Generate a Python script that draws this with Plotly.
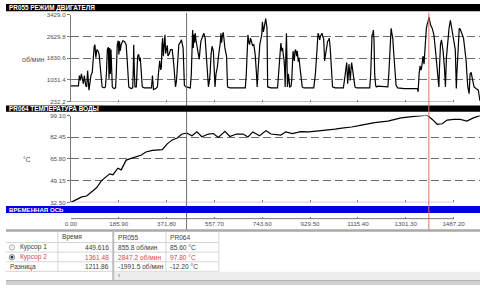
import plotly.graph_objects as go

# ---------------- data ----------------
rpm_time = [0, 29.3, 33.1, 37, 40.8, 44.6, 48.4, 52.3, 57.4, 61.2, 65.1, 70.2, 77.9, 83, 86.8, 90.7, 93.2, 97.1,
            100.9, 106, 109.8, 116.2, 121.3, 129, 134.1, 138, 141.8, 145.7, 148.2, 150.8, 153.3, 155.9, 158.4, 161,
            167.4, 173.8, 176.3, 180.2, 184, 186.6, 189.1, 191.7, 195.5, 201.9, 208.3, 214.7, 218.6, 221.1, 225,
            233.9, 240.3, 242.8, 244.1, 246.7, 249.2, 254.4, 256.9, 259.5, 263.3, 267.2, 269.7, 273.6, 277.4, 285.1,
            313.2, 317, 320.9, 329.8, 336.2, 340.1, 345.2, 349, 351.6, 354.1, 356.7, 359.2, 361.8, 364.4, 365.6,
            368.2, 370.7, 374.6, 377.1,
            381, 387.4, 393.8, 400.2, 406.6, 410.4, 414.3, 419.4, 424.5, 429.6, 436, 438.6, 441.1, 447.5, 464.1,
            468, 470.5, 473.1, 475.6, 478.2, 480.8, 483.3, 485.9, 489.7, 493.6, 498.7, 502.5, 505.1, 511.5, 516.6,
            521.7, 525.5, 528.1, 531.9, 534.5, 538.3, 540.9, 544.7, 548.5, 553.7, 557.5, 560.1, 563.9, 569, 572.9,
            576.7, 580.5, 583.1, 585.6, 588.2, 592, 595.9, 598.4, 604.8, 607.4, 608.7, 617.6, 677.7, 681.6, 685.4,
            688, 691.8, 694.4, 698.2, 700.8, 705.9, 711, 716.1, 721.2, 723.8, 726.3, 728.9, 734, 739.1, 741.7,
            744.2, 748.1, 750.6, 754.5, 757, 759.6, 762.1, 764.7, 777.5,
            803.1, 806.9, 809.5, 813.3, 815.9, 819.7, 822.3, 826.1, 828.7, 831.2, 832.5, 835.1, 837.6, 840.2, 841.5,
            845.3, 850.4, 855.5, 858.1, 863.2, 865.8, 868.3, 870.9, 873.4, 877.3, 879.8, 883.7, 886.2, 890.1, 892.6,
            896.4, 899, 905.4, 943.8, 950.2, 954, 956.6, 960.4, 963, 966.8, 969.4, 973.2, 975.8, 979.6, 982.1,
            984.7, 986, 988.5, 991.1, 994.9, 997.5, 1001.3, 1003.9, 1007.7, 1010.3, 1014.1, 1016.7, 1026.9, 1058.9,
            1062.7, 1065.3, 1069.1, 1071.7, 1075.5, 1078.1, 1080.6, 1083.2, 1085.7, 1088.3, 1090.9, 1093.4, 1097.3,
            1101.1, 1103.7, 1110, 1161.2, 1165, 1167.6, 1170.2, 1172.7, 1175.3, 1177.9, 1180.4, 1184.2, 1186.8,
            1193.2, 1218.8, 1231.6, 1235.4, 1238, 1241.8, 1244.3, 1248.2, 1250.7, 1254.6, 1257.1, 1259.7, 1263.5,
            1269.9, 1295.5, 1346.7, 1349.2, 1353.1, 1356.9, 1359.5, 1362, 1365.8, 1368.4, 1372.2, 1376.1, 1381.2,
            1385, 1387.6, 1391.4, 1395.3, 1397.8, 1404.2, 1410.6, 1417, 1423.4, 1427.2, 1429.8, 1432.4, 1436.2,
            1440, 1443.9, 1446.4, 1451.5, 1455.4, 1459.2, 1464.3, 1469.4, 1474.6, 1481, 1487.4, 1493.7, 1496.3,
            1497.6, 1500.1, 1502.7, 1506.5, 1509.1, 1512.9, 1515.5, 1520.6, 1525.7, 1530.8, 1535.9, 1539.8, 1542.3,
            1547.4, 1551.3, 1555.1, 1557.7, 1560.2, 1564.1, 1566.6, 1574.3, 1583.2, 1587.1, 1589.6]

rpm_value = [807, 807, 1190, 1010, 1250, 1070, 891, 1190, 831, 771, 1370, 651, 1190, 1310, 1968, 2268, 2327, 1849,
             2148, 2088, 1968, 1250, 771, 735, 771, 1250, 2148, 2232, 1070, 2208, 1250, 2150, 1609, 771,
             711, 735, 1250, 2327, 2471, 1968, 2447, 2100, 2327, 2471, 2447, 2327, 1800, 1250, 771,
             711, 735, 1500, 2327, 1300, 771, 771, 1300, 1908, 1968, 1720, 1849, 1250, 771, 735,
             735, 1190, 675, 711, 771, 1250, 1729, 1400, 1489, 2300, 2567, 1900, 2208, 2500, 2687,
             2000, 2088, 2300, 1908,
             1968, 2148, 2148, 1549, 771, 1000, 1700, 2327, 2400, 2507, 2208, 1400, 831, 771, 735,
             1250, 2200, 2866, 2208, 2700, 2400, 2750, 2507, 2300, 2088, 1789, 2200, 2447, 2627, 2747,
             2567, 2000, 1609, 1000, 771, 1000, 1250, 1968, 2268, 2088, 1500, 771, 1250, 1489, 1849,
             2088, 2400, 2747, 2400, 2627, 2782, 2450, 2208, 1908, 1300, 771, 735, 735, 1250, 2300,
             2687, 2400, 2327, 2567, 2500, 2300, 2327, 1968, 1250, 771, 1200, 1729, 2327, 2567, 2700,
             3166, 2800, 2926, 3200, 3285, 3100, 2926, 771, 735,
             735, 1200, 1849, 2200, 2387, 2088, 2208, 1900, 1729, 1300, 771, 1900, 2747, 1500, 771,
             1250, 771, 800, 1010, 2088, 1800, 1729, 2100, 2148, 1900, 2088, 1700, 1849, 1500, 1250,
             1000, 771, 735, 735, 1250, 2000, 2567, 2747, 2687, 2500, 2627, 2700, 2747, 2600, 2567,
             2000, 1729, 1900, 2088, 2300, 2447, 2500, 2567, 2200, 1849, 1250, 771, 735, 735,
             1000, 1250, 1609, 1669, 891, 1500, 1609, 1300, 1010, 1400, 1669, 1500, 1250,
             900, 771, 735, 735, 1250, 2100, 2687, 2700, 2866, 2500, 1250, 831, 771,
             800, 771, 771, 1250, 1729, 2500, 2926, 2700, 2567, 2000, 1549, 1100, 831,
             735, 711, 711, 592, 1250, 1549, 1400, 1430, 1700, 1908, 1609, 2327, 2926,
             3100, 3166, 3345, 3150, 3046, 2926, 2687, 2088, 1250, 900, 771, 1500, 2327,
             2507, 2300, 2088, 1489, 771, 1849, 2447, 2926, 3225, 2806, 2507, 2148, 1250,
             711, 1300, 1849, 2500, 2926, 2900, 2806, 2700, 2567, 2200, 1729, 1100, 771,
             520, 1250, 1310, 1150, 1070, 900, 771, 711, 651, 400, 260]

temp_time = [0, 23, 42.2, 61.4, 80.6, 99.8, 119, 138.1, 150.8, 163.5, 182.6, 195.7, 214.9, 234.1, 253.2, 272.4,
             291.6, 316.9, 355.3, 374.5, 393.7, 412.9, 432, 451.2, 470.4, 489.6, 508.8, 534.5, 553.7, 572.9,
             598.6, 617.8, 643.1, 668.8, 688, 707.2, 732.9, 758.2, 777.4, 815.8, 834.9, 860.7, 892.5, 924.7,
             963.1, 1001.5, 1026.8, 1052.5, 1090.9, 1129.2, 1180.3, 1231.7, 1282.7, 1333.8, 1385.2, 1404.3,
             1423.5, 1442.7, 1461.9, 1487.2, 1512.9, 1538.6, 1564, 1589.7]
temp_value = [32.5, 35.0, 36.7, 37.4, 40.4, 43.7, 49.2, 52.4, 54.4, 53.7, 58.7, 57.4, 64.9, 66.2, 67.4, 68.6,
              71.1, 72.4, 72.9, 77.4, 80.4, 81.9, 84.9, 85.6, 83.6, 86.6, 82.8, 84.9, 85.3, 82.3,
              87.0, 83.0, 84.9, 84.9, 82.6, 86.5, 83.6, 87.5, 84.9, 84.1, 86.6, 85.3, 86.8, 86.6,
              87.4, 87.9, 88.6, 89.4, 90.3, 91.8, 93.6, 94.8, 97.3, 98.4, 99.3, 96.1,
              92.4, 92.8, 95.6, 96.1, 96.1, 94.8, 97.3, 99.1]

rpm_ticks = [232.2, 1031.4, 1830.6, 2629.8, 3429.0]
rpm_tick_text = ["232.2", "1031.4", "1830.6", "2629.8", "3429.0"]
temp_ticks = [32.50, 49.15, 65.80, 82.45, 99.10]
temp_tick_text = ["32.50", "49.15", "65.80", "82.45", "99.10"]
time_ticks = [0.00, 185.90, 371.80, 557.70, 743.60, 929.50, 1115.40, 1301.30, 1487.20]
time_max = 1589.7
cursor1_time = 449.616
cursor2_time = 1391.0

title_rpm = "PR055 РЕЖИМ ДВИГАТЕЛЯ"
title_temp = "PR064 ТЕМПЕРАТУРА ВОДЫ"
title_time = "ВРЕМЕННАЯ ОСЬ"
unit_rpm = "об/мин"
unit_temp = "°C"

table_header = ["Время", "PR055", "PR064"]
row_labels = ["Курсор 1", "Курсор 2", "Разница"]
row_times = ["449.616", "1361.48", "1211.86"]
row_pr055 = ["855.8 об/мин", "2847.2 об/мин", "-1991.5 об/мин"]
row_pr064 = ["85.60 °C", "97.80 °C", "-12.20 °C"]

# ---------------- layout helpers ----------------
W, H = 480, 288
FONT = "Liberation Sans, Arial, sans-serif"
TXT = "#404040"
RED = "#dd4646"
GRID = "#6c6c6c"
AX = "#7a7a7a"


def X(p):
    return p / W


def Y(p):
    return 1 - p / H


xdom = [X(65.7), 1.0]

fig = go.Figure()
fig.add_trace(go.Scatter(x=rpm_time, y=rpm_value, mode="lines", xaxis="x", yaxis="y",
                         line=dict(color="#000000", width=1.2), hoverinfo="skip", showlegend=False))
fig.add_trace(go.Scatter(x=temp_time, y=temp_value, mode="lines", xaxis="x2", yaxis="y2",
                         line=dict(color="#000000", width=1.2), hoverinfo="skip", showlegend=False))
fig.add_trace(go.Scatter(x=[time_ticks[0], time_ticks[-1]], y=[0, 0], mode="markers", xaxis="x3", yaxis="y3",
                         marker=dict(opacity=0), hoverinfo="skip", showlegend=False))

xcommon = dict(domain=xdom, range=[0, time_max], tickvals=time_ticks, showticklabels=False,
               ticks="inside", ticklen=2, tickcolor=AX, tickwidth=1, showgrid=False, zeroline=False,
               showline=False, fixedrange=True)
ycommon = dict(showline=True, linecolor=AX, linewidth=1, ticks="outside", ticklen=3, tickcolor=AX,
               showgrid=True, gridcolor=GRID, griddash="8px,4px", gridwidth=1.2, zeroline=False,
               tickfont=dict(family=FONT, size=6.2, color="#505050"), fixedrange=True)

fig.update_layout(
    width=W, height=H, margin=dict(l=0, r=0, t=0, b=0, pad=0), autosize=False,
    paper_bgcolor="#ffffff", plot_bgcolor="rgba(0,0,0,0)", showlegend=False,
    xaxis=dict(anchor="y", **xcommon),
    yaxis=dict(domain=[Y(100), Y(11)], range=[rpm_ticks[0], rpm_ticks[-1]], tickvals=rpm_ticks,
               ticktext=rpm_tick_text, anchor="x", **ycommon),
    xaxis2=dict(anchor="y2", **xcommon),
    yaxis2=dict(domain=[Y(203.3), Y(114.3)], range=[temp_ticks[0], temp_ticks[-1]], tickvals=temp_ticks,
                ticktext=temp_tick_text, anchor="x2", **ycommon),
    xaxis3=dict(domain=xdom, range=[0, time_max], anchor="y3", side="bottom", tickvals=time_ticks,
                tickformat=".2f", ticks="inside", ticklen=2, tickcolor=AX, showline=False, showgrid=False,
                zeroline=False, tickfont=dict(family=FONT, size=6.2, color="#505050"), fixedrange=True),
    yaxis3=dict(domain=[Y(220), Y(218)], anchor="x3", visible=False, range=[-1, 1], fixedrange=True),
)

shapes = []
# cursor 1 (gray)
shapes.append(dict(type="line", xref="x", yref="paper", x0=cursor1_time, x1=cursor1_time,
                   y0=Y(232), y1=Y(9), line=dict(color="#6e6e6e", width=1)))
# bottom axis lines of the plots and the time axis
shapes.append(dict(type="line", xref="x", yref="y", x0=time_ticks[0], x1=time_ticks[-1],
                   y0=rpm_ticks[0], y1=rpm_ticks[0], line=dict(color=AX, width=1)))
shapes.append(dict(type="line", xref="x2", yref="y2", x0=time_ticks[0], x1=time_ticks[-1],
                   y0=temp_ticks[0], y1=temp_ticks[0], line=dict(color=AX, width=1)))
shapes.append(dict(type="line", xref="x3", yref="paper", x0=time_ticks[0], x1=time_ticks[-1],
                   y0=Y(220), y1=Y(220), line=dict(color=AX, width=1)))
# header bars
shapes.append(dict(type="rect", xref="paper", yref="paper", x0=0, x1=1, y0=Y(7.5), y1=Y(0),
                   fillcolor="#000000", line=dict(width=0)))
shapes.append(dict(type="rect", xref="paper", yref="paper", x0=0, x1=1, y0=Y(110.5), y1=Y(104),
                   fillcolor="#000000", line=dict(width=0)))
shapes.append(dict(type="rect", xref="paper", yref="paper", x0=0, x1=1, y0=Y(214.3), y1=Y(207),
                   fillcolor="#0000e6", line=dict(width=0)))
# cursor 2 (red)
shapes.append(dict(type="line", xref="x", yref="paper", x0=cursor2_time, x1=cursor2_time,
                   y0=Y(232), y1=Y(9), line=dict(color="#e07070", width=1)))
# separator between chart and table
shapes.append(dict(type="rect", xref="paper", yref="paper", x0=0, x1=1, y0=Y(233.3), y1=Y(230.8),
                   fillcolor="#a9a9a9", line=dict(width=0)))
# table grid
LG = "#d6d6d6"
for yy in [244.5, 254.3, 264.2, 274]:
    shapes.append(dict(type="line", xref="paper", yref="paper", x0=X(0), x1=X(215.5), y0=Y(yy), y1=Y(yy),
                       line=dict(color=LG, width=1)))
for xx in [52.5, 162, 215.5]:
    shapes.append(dict(type="line", xref="paper", yref="paper", x0=X(xx), x1=X(xx), y0=Y(274), y1=Y(233.3),
                       line=dict(color=LG, width=1)))
# scrollbar strip on the right panel
shapes.append(dict(type="rect", xref="paper", yref="paper", x0=X(109.5), x1=1, y0=Y(283), y1=Y(274.5),
                   fillcolor="#ededed", line=dict(width=0)))
# panel divider
shapes.append(dict(type="rect", xref="paper", yref="paper", x0=X(107.6), x1=X(109.6), y0=Y(283), y1=Y(233.3),
                   fillcolor="#bcbcbc", line=dict(width=0)))
# bottom band
shapes.append(dict(type="rect", xref="paper", yref="paper", x0=0, x1=1, y0=Y(288), y1=Y(283),
                   fillcolor="#d2d2d2", line=dict(width=0)))
shapes.append(dict(type="line", xref="paper", yref="paper", x0=0, x1=1, y0=Y(283.5), y1=Y(283.5),
                   line=dict(color="#b0b0b0", width=1)))
# radio buttons
shapes.append(dict(type="circle", xref="paper", yref="paper", x0=X(3.2), x1=X(8.8), y0=Y(252.3), y1=Y(246.7),
                   fillcolor="#ececec", line=dict(color="#a8a8a8", width=0.8)))
shapes.append(dict(type="circle", xref="paper", yref="paper", x0=X(3.2), x1=X(8.8), y0=Y(262.3), y1=Y(256.7),
                   fillcolor="#e4e4e4", line=dict(color="#7c7c7c", width=0.8)))
shapes.append(dict(type="circle", xref="paper", yref="paper", x0=X(4.6), x1=X(7.4), y0=Y(260.9), y1=Y(258.1),
                   fillcolor="#24345e", line=dict(width=0)))
fig.update_layout(shapes=shapes)

ann = []


def txt(x, y, s, size=6.6, color=TXT, anchor="left", bold=False):
    ann.append(dict(xref="paper", yref="paper", x=X(x), y=Y(y), text=("<b>%s</b>" % s) if bold else s,
                    showarrow=False, xanchor=anchor, yanchor="middle",
                    font=dict(family=FONT, size=size, color=color)))


txt(1, 3.8, title_rpm, size=6.4, color="#ffffff", bold=True)
txt(1, 107.3, title_temp, size=6.4, color="#ffffff", bold=True)
txt(1, 210.7, title_time, size=6.1, color="#ffffff", bold=True)
txt(28, 56.5, unit_rpm, size=7, color="#505050", anchor="center")
txt(21, 159.3, unit_temp, size=6.8, color="#505050", anchor="center")

txt(55, 239, table_header[0])
txt(111.5, 239, table_header[1])
txt(164.5, 239, table_header[2])
row_y = [249.3, 259.4, 269.2]
for i in range(3):
    col = RED if i == 1 else TXT
    lx = 2 if i == 2 else 12.3
    txt(lx, row_y[i], row_labels[i], color=col)
    txt(106, row_y[i], row_times[i], color=col, anchor="right")
    txt(111.5, row_y[i], row_pr055[i], color=col)
    txt(164.5, row_y[i], row_pr064[i], color=col)
txt(115, 278.2, "‹", size=7, color="#707070", anchor="center")
fig.update_layout(annotations=ann)

fig.write_html("out.html")
